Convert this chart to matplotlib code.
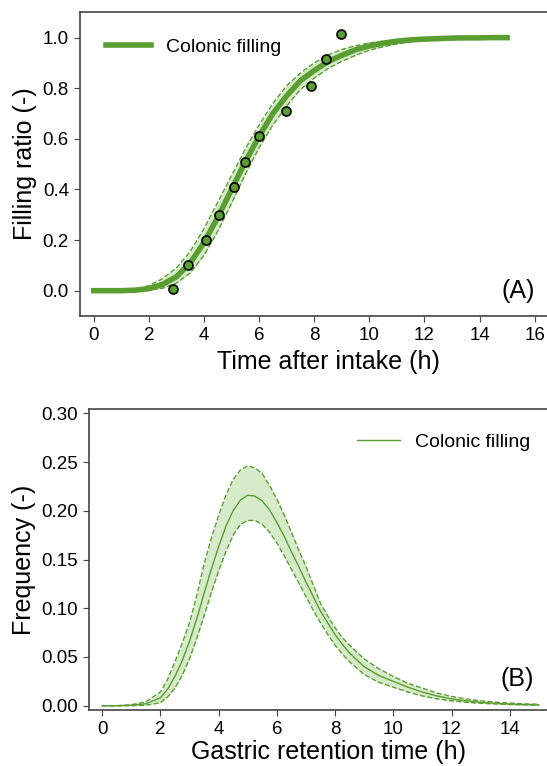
import numpy as np
import matplotlib
matplotlib.use("Agg")
import matplotlib.pyplot as plt

plt.rcParams['font.family'] = ['Liberation Sans', 'DejaVu Sans']

# ---- panel A: colonic filling ratio ----
t_fit = [0.0, 0.5, 1.0, 1.5, 2.0, 2.5, 3.0, 3.5, 4.0, 4.5, 5.0, 5.5, 6.0, 6.5, 7.0, 7.5,
         8.0, 8.5, 9.0, 9.5, 10.0, 10.5, 11.0, 11.5, 12.0, 12.5, 13.0, 13.5, 14.0, 14.5, 15.0]
fill_mean = [0.0, 0.0, 0.0, 0.002, 0.008, 0.025, 0.055, 0.11, 0.19, 0.29, 0.40, 0.51, 0.61, 0.70,
             0.77, 0.83, 0.87, 0.905, 0.93, 0.952, 0.967, 0.978, 0.986, 0.991, 0.994, 0.996,
             0.998, 0.999, 0.999, 1.0, 1.0]
fill_upper = [0.0, 0.0, 0.001, 0.006, 0.02, 0.048, 0.09, 0.155, 0.245, 0.35, 0.455, 0.56, 0.655,
              0.74, 0.81, 0.86, 0.90, 0.932, 0.953, 0.968, 0.979, 0.986, 0.991, 0.995, 0.997,
              0.998, 0.999, 1.0, 1.0, 1.0, 1.0]
fill_lower = [0.0, 0.0, 0.0, 0.0005, 0.002, 0.01, 0.03, 0.07, 0.14, 0.235, 0.345, 0.46, 0.565,
              0.655, 0.73, 0.795, 0.84, 0.878, 0.906, 0.93, 0.95, 0.964, 0.975, 0.983, 0.989,
              0.993, 0.995, 0.997, 0.998, 0.999, 1.0]
t_obs = [2.88, 3.42, 4.09, 4.53, 5.08, 5.48, 6.0, 6.98, 7.88, 8.41, 8.98]
fill_obs = [0.005, 0.10, 0.20, 0.30, 0.41, 0.51, 0.61, 0.71, 0.81, 0.915, 1.015]

# ---- panel B: gastric retention time distribution ----
t_freq = [0.0, 0.5, 1.0, 1.5, 2.0, 2.25, 2.5, 2.75, 3.0, 3.25, 3.5, 3.75, 4.0, 4.25, 4.5, 4.75,
          5.0, 5.25, 5.5, 5.75, 6.0, 6.25, 6.5, 6.75, 7.0, 7.25, 7.5, 7.75, 8.0, 8.25, 8.5,
          9.0, 9.5, 10.0, 10.5, 11.0, 11.5, 12.0, 12.5, 13.0, 13.5, 14.0, 14.5, 15.0]
freq_mean = [0.0, 0.0, 0.0005, 0.002, 0.008, 0.017, 0.030, 0.046, 0.066, 0.089, 0.115, 0.140,
             0.163, 0.184, 0.200, 0.211, 0.216, 0.215, 0.210, 0.201, 0.188, 0.174, 0.158, 0.143,
             0.127, 0.112, 0.097, 0.085, 0.073, 0.063, 0.054,
             0.040, 0.031, 0.025, 0.019, 0.014, 0.010, 0.007, 0.005, 0.0035, 0.0025, 0.0017,
             0.0012, 0.0008]
freq_upper = [0.0, 0.0, 0.001, 0.004, 0.014, 0.027, 0.045, 0.064, 0.085, 0.113, 0.145, 0.172,
              0.195, 0.216, 0.232, 0.242, 0.246, 0.244, 0.238, 0.226, 0.212, 0.196, 0.178, 0.160,
              0.143, 0.124, 0.105, 0.092, 0.080, 0.070, 0.062,
              0.048, 0.038, 0.030, 0.023, 0.018, 0.013, 0.0095, 0.007, 0.005, 0.0037, 0.0027,
              0.002, 0.0015]
freq_lower = [0.0, 0.0, 0.0, 0.0005, 0.003, 0.009, 0.018, 0.031, 0.048, 0.069, 0.092, 0.116,
              0.138, 0.158, 0.175, 0.186, 0.190, 0.190, 0.186, 0.178, 0.167, 0.154, 0.140, 0.126,
              0.112, 0.098, 0.085, 0.073, 0.062, 0.053, 0.045,
              0.032, 0.024, 0.019, 0.014, 0.010, 0.007, 0.005, 0.0035, 0.0025, 0.0018, 0.0012,
              0.0008, 0.0005]

green = '#5a9e32'
band = '#d7ebcb'
W, H = 547, 766

fig = plt.figure(figsize=(W / 100, H / 100), dpi=100)

# top panel
ax1 = fig.add_axes([80 / W, 1 - 316 / H, 496 / W, 303.7 / H])
ax1.fill_between(t_fit, fill_lower, fill_upper, color=band, lw=0)
ax1.plot(t_fit, fill_upper, '--', color=green, lw=1)
ax1.plot(t_fit, fill_lower, '--', color=green, lw=1)
ax1.plot(t_fit, fill_mean, '-', color=green, lw=4, label='Colonic filling')
ax1.plot(t_obs, fill_obs, 'o', color=green, mec='black', mew=1.2, ms=6.5)
ax1.set_xlim(-0.5, 17.5)
ax1.set_ylim(-0.1, 1.1)
ax1.set_xticks(np.arange(0, 17, 2))
ax1.set_yticks([0.0, 0.2, 0.4, 0.6, 0.8, 1.0])
ax1.set_xlabel('Time after intake (h)', fontsize=18)
ax1.set_ylabel('Filling ratio (-)', fontsize=18)
fig.text(518 / W, 1 - 291 / H, '(A)', fontsize=18, ha='center', va='center')
ax1.legend(loc='center left', frameon=False, fontsize=14, handlelength=2.3,
           handletextpad=0.8, borderpad=0, borderaxespad=0,
           bbox_to_anchor=(106 / W, 1 - 47.3 / H), bbox_transform=fig.transFigure)

# bottom panel
ax2 = fig.add_axes([89 / W, 1 - 710 / H, 479 / W, 301 / H])
ax2.fill_between(t_freq, freq_lower, freq_upper, color=band, lw=0)
ax2.plot(t_freq, freq_upper, '--', color=green, lw=1)
ax2.plot(t_freq, freq_lower, '--', color=green, lw=1)
ax2.plot(t_freq, freq_mean, '-', color=green, lw=1, label='Colonic filling')
ax2.set_xlim(-0.45, 16.0)
ax2.set_ylim(-0.0044, 0.3044)
ax2.set_xticks(np.arange(0, 15, 2))
ax2.set_yticks([0.0, 0.05, 0.10, 0.15, 0.20, 0.25, 0.30])
ax2.set_yticklabels(['0.00', '0.05', '0.10', '0.15', '0.20', '0.25', '0.30'])
ax2.set_xlabel('Gastric retention time (h)', fontsize=18, labelpad=1.5)
ax2.set_ylabel('Frequency (-)', fontsize=18)
fig.text(517 / W, 1 - 679 / H, '(B)', fontsize=18, ha='center', va='center')
ax2.legend(loc='center left', frameon=False, fontsize=14, handlelength=2.2,
           handletextpad=0.8, borderpad=0, borderaxespad=0,
           bbox_to_anchor=(357 / W, 1 - 442 / H), bbox_transform=fig.transFigure)

for ax in (ax1, ax2):
    ax.tick_params(labelsize=13.5, direction='out', length=4, color='#444444', pad=4)
    for s in ax.spines.values():
        s.set_color('#444444')
        s.set_linewidth(1.2)
    ax.spines['right'].set_visible(False)

fig.savefig('out.png', dpi=100)
